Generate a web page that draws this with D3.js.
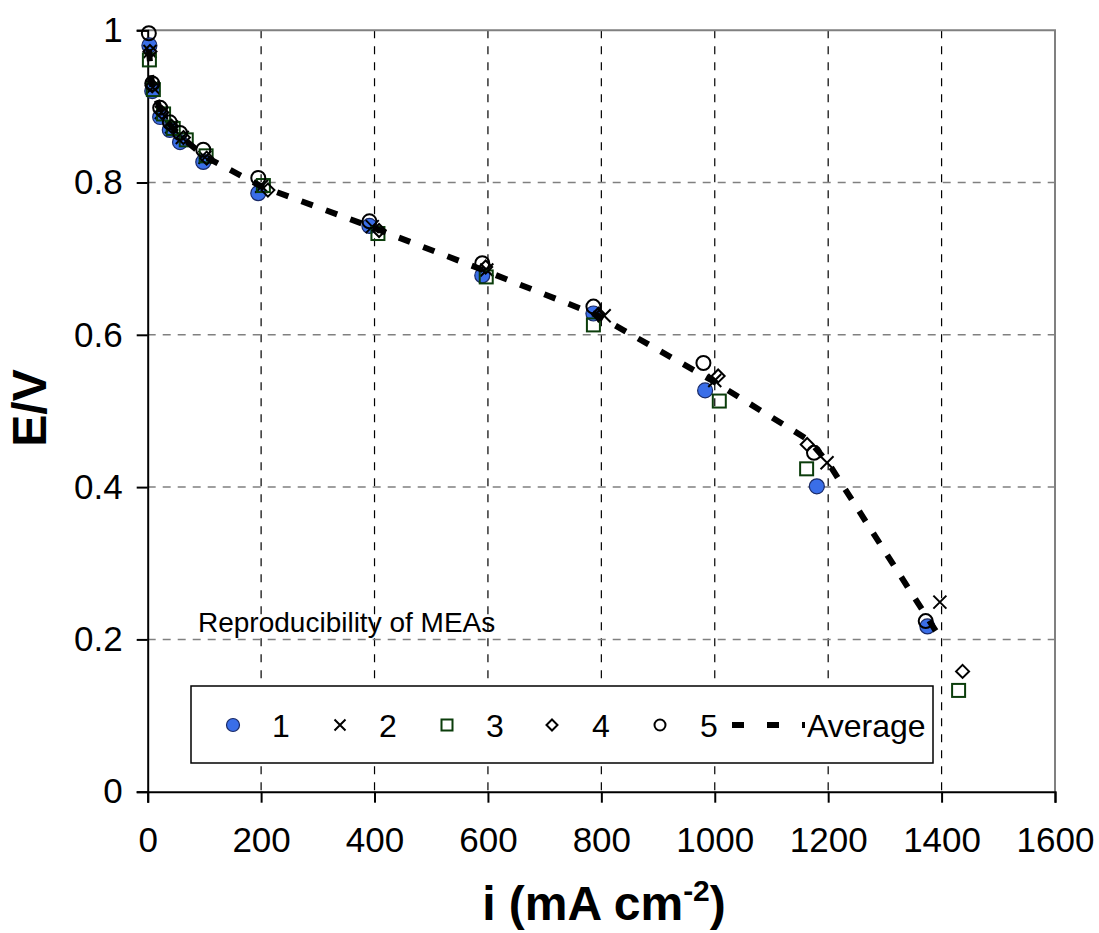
<!DOCTYPE html>
<html>
<head>
<meta charset="utf-8">
<script src="https://cdn.jsdelivr.net/npm/d3@7"></script>
<style>
  body { margin: 0; background: #fff; }
  text { font-family: Arial, "Liberation Sans", sans-serif; }
</style>
</head>
<body>
<svg id="chart"></svg>
<script>
// current density (mA cm-2) and cell voltage (V) for each MEA
const I1 = [3, 8, 22, 39, 57, 98, 195, 391, 590, 786, 983, 1180, 1375];
const E1 = [0.980, 0.920, 0.886, 0.869, 0.853, 0.827, 0.786, 0.743, 0.678, 0.628, 0.527, 0.401, 0.217];
const I2 = [4, 9, 24, 42, 61, 101, 201, 396, 598, 805, 1000, 1198, 1397];
const E2 = [0.972, 0.925, 0.892, 0.873, 0.859, 0.833, 0.795, 0.742, 0.685, 0.625, 0.540, 0.432, 0.249];
const I3 = [3, 10, 28, 45, 68, 103, 204, 406, 597, 786, 1008, 1162, 1430];
const E3 = [0.961, 0.922, 0.890, 0.871, 0.856, 0.835, 0.796, 0.733, 0.676, 0.613, 0.513, 0.424, 0.133];
const I4 = [4, 8, 25, 42, 63, 104, 212, 408, 596, 795, 1006, 1163, 1437];
const E4 = [0.972, 0.927, 0.892, 0.874, 0.859, 0.832, 0.790, 0.737, 0.689, 0.627, 0.546, 0.456, 0.158];
const I5 = [2, 8, 22, 39, 57, 98, 195, 391, 590, 786, 980, 1175, 1372];
const E5 = [0.996, 0.930, 0.898, 0.879, 0.865, 0.843, 0.806, 0.749, 0.694, 0.637, 0.563, 0.445, 0.224];
const IAVG = [2, 8, 24, 42, 62, 101, 200, 400, 595, 792, 995, 1165, 1200, 1395];
const EAVG = [0.975, 0.925, 0.892, 0.873, 0.858, 0.834, 0.795, 0.740, 0.684, 0.626, 0.540, 0.462, 0.432, 0.205];

const X_TICKS = [0, 200, 400, 600, 800, 1000, 1200, 1400, 1600];
const Y_TICKS = [0, 0.2, 0.4, 0.6, 0.8, 1];
const LEGEND = ["1", "2", "3", "4", "5", "Average"];

var width = 1099, height = 933;
var svg = d3.select("#chart").attr("width", width).attr("height", height);

var x = d3.scaleLinear().domain([0, 1600]).range([147.7, 1055]);
var y = d3.scaleLinear().domain([0, 1]).range([791.7, 30.2]);

function pts(I, E) {
  var out = [];
  for (let k = 0; k < I.length; k++) out.push({i: I[k], e: E[k]});
  return out;
}

/********* GRID ***********/
svg.append("g").selectAll("line")
  .data(X_TICKS.slice(1, -1))
  .enter().append("line")
  .attr("x1", d => x(d)).attr("x2", d => x(d))
  .attr("y1", y(1)).attr("y2", y(0))
  .attr("stroke", "#000").attr("stroke-width", 1.2)
  .attr("stroke-dasharray", "8,8");

svg.append("g").selectAll("line")
  .data(Y_TICKS.slice(1, -1))
  .enter().append("line")
  .attr("x1", x(0)).attr("x2", x(1600))
  .attr("y1", d => y(d)).attr("y2", d => y(d))
  .attr("stroke", "#808080").attr("stroke-width", 1.5)
  .attr("stroke-dasharray", "8,7");

// frame: top and right in grey
svg.append("path")
  .attr("d", "M" + x(0) + "," + y(1) + "H" + x(1600) + "V" + y(0))
  .attr("fill", "none").attr("stroke", "#808080").attr("stroke-width", 2);

/********* AXES ***********/
var xAxis = svg.append("g")
  .attr("transform", "translate(0," + y(0) + ")")
  .call(d3.axisBottom(x).tickValues(X_TICKS).tickSize(11).tickPadding(24).tickFormat(d3.format("d")));
var yAxis = svg.append("g")
  .attr("transform", "translate(" + x(0) + ",0)")
  .call(d3.axisLeft(y).tickValues(Y_TICKS).tickSize(11).tickPadding(14).tickFormat(d => d3.format("")(d)));

[xAxis, yAxis].forEach(function(a) {
  a.select(".domain").attr("stroke", "#000").attr("stroke-width", 2);
  a.selectAll(".tick line").attr("stroke", "#000").attr("stroke-width", 2);
  a.selectAll(".tick text").attr("font-size", 35).attr("fill", "#000")
    .style("font-family", "Arial, 'Liberation Sans', sans-serif");
});

svg.append("text")
  .attr("transform", "translate(46," + 408 + ") rotate(-90)")
  .attr("text-anchor", "middle")
  .attr("font-size", 48).attr("font-weight", "bold")
  .text("E/V");

var xt = svg.append("text")
  .attr("x", 604).attr("y", 920)
  .attr("text-anchor", "middle")
  .attr("font-size", 48).attr("font-weight", "bold");
xt.append("tspan").text("i (mA cm");
xt.append("tspan").attr("font-size", 30).attr("dy", -19).text("-2");
xt.append("tspan").attr("dy", 19).text(")");

svg.append("text")
  .attr("x", 198).attr("y", 632)
  .attr("font-size", 28)
  .text("Reproducibility of MEAs");

/********* MARKERS ***********/
function circleMark(g, d, r, fill) {
  g.append("circle").attr("cx", d[0]).attr("cy", d[1]).attr("r", r)
    .attr("fill", fill).attr("stroke", fill === "none" ? "#000" : "#1a2a66").attr("stroke-width", fill === "none" ? 2 : 1.2);
}
function crossMark(g, d, s) {
  g.append("path")
    .attr("d", "M" + (d[0] - s) + "," + (d[1] - s) + "L" + (d[0] + s) + "," + (d[1] + s) +
               "M" + (d[0] - s) + "," + (d[1] + s) + "L" + (d[0] + s) + "," + (d[1] - s))
    .attr("stroke", "#000").attr("stroke-width", 2).attr("fill", "none");
}
function squareMark(g, d, s) {
  g.append("rect").attr("x", d[0] - s).attr("y", d[1] - s).attr("width", 2 * s).attr("height", 2 * s)
    .attr("fill", "none").attr("stroke", "#0b3d0b").attr("stroke-width", 2);
}
function diamondMark(g, d, s) {
  g.append("path")
    .attr("d", "M" + d[0] + "," + (d[1] - s) + "L" + (d[0] + s) + "," + d[1] + "L" + d[0] + "," + (d[1] + s) +
               "L" + (d[0] - s) + "," + d[1] + "Z")
    .attr("fill", "none").attr("stroke", "#000").attr("stroke-width", 2);
}

var series = [
  {data: pts(I1, E1), draw: (g, p) => circleMark(g, p, 7.5, "#3a6ee8")},
  {data: pts(I2, E2), draw: (g, p) => crossMark(g, p, 6.5)},
  {data: pts(I3, E3), draw: (g, p) => squareMark(g, p, 6.5)},
  {data: pts(I4, E4), draw: (g, p) => diamondMark(g, p, 6.5)},
  {data: pts(I5, E5), draw: (g, p) => circleMark(g, p, 7, "none")}
];

series.forEach(function(s) {
  var g = svg.append("g");
  s.data.forEach(d => s.draw(g, [x(d.i), y(d.e)]));
});

// average curve
svg.append("path")
  .datum(pts(IAVG, EAVG))
  .attr("d", d3.line().x(d => x(d.i)).y(d => y(d.e)))
  .attr("fill", "none").attr("stroke", "#000")
  .attr("stroke-width", 6).attr("stroke-dasharray", "12,14");

/********* LEGEND ***********/
var lg = svg.append("g");
lg.append("rect")
  .attr("x", 191).attr("y", 686).attr("width", 742).attr("height", 77)
  .attr("fill", "#fff").attr("stroke", "#000").attr("stroke-width", 1.5);

var ly = 725;
var keyX = [233, 340, 447, 552, 660];
var labX = [272, 379, 486, 592, 700, 807];
circleMark(lg, [keyX[0], ly], 6.5, "#3a6ee8");
crossMark(lg, [keyX[1], ly], 5.5);
squareMark(lg, [keyX[2], ly], 5.5);
diamondMark(lg, [keyX[3], ly], 5.5);
circleMark(lg, [keyX[4], ly], 5.5, "none");
lg.append("line")
  .attr("x1", 732).attr("x2", 805).attr("y1", ly).attr("y2", ly)
  .attr("stroke", "#000").attr("stroke-width", 6).attr("stroke-dasharray", "12,23");

lg.selectAll("text.lab")
  .data(LEGEND)
  .enter().append("text")
  .attr("class", "lab")
  .attr("x", (d, k) => labX[k])
  .attr("y", ly + 12)
  .attr("font-size", 32)
  .text(d => d);
</script>
</body>
</html>
